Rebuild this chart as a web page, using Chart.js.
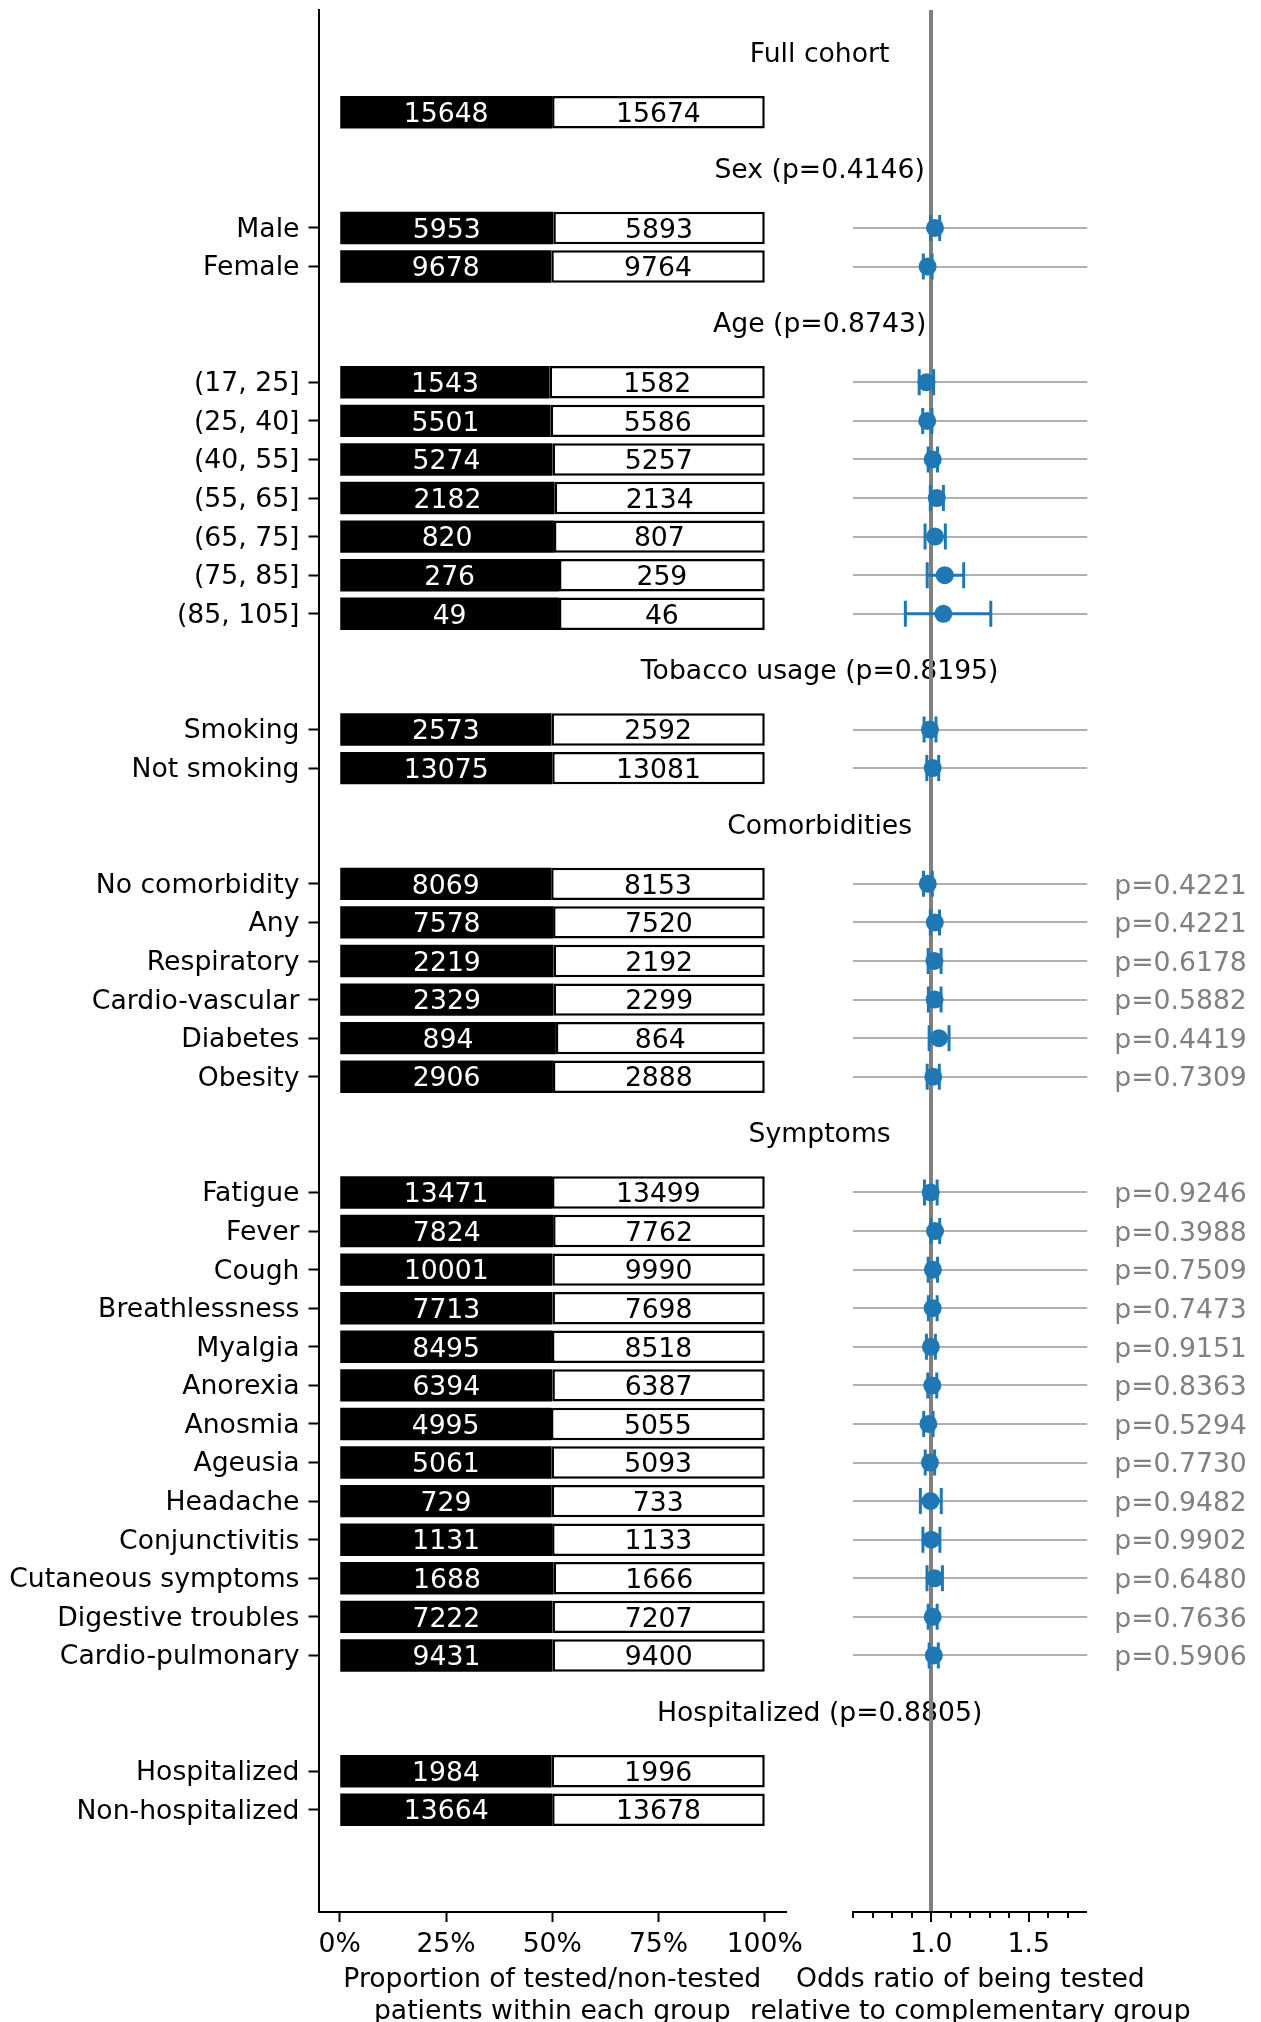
<!DOCTYPE html>
<html>
<head>
<meta charset="utf-8">
<script src="https://cdn.jsdelivr.net/npm/chart.js@4.4.1/dist/chart.umd.min.js"></script>
<style>
  html, body { margin: 0; padding: 0; background: #ffffff; }
  #wrap { position: relative; width: 1261px; height: 2022px; }
  #wrap canvas { position: absolute; left: 0; top: 0; }
</style>
</head>
<body>
<div id="wrap">
  <canvas id="shares" width="1261" height="2022"></canvas>
  <canvas id="odds" width="1261" height="2022"></canvas>
</div>
<script>
// ---- data ----
const groupTitles = ['Full cohort', 'Sex (p=0.4146)', 'Age (p=0.8743)', 'Tobacco usage (p=0.8195)',
  'Comorbidities', 'Symptoms', 'Hospitalized (p=0.8805)'];

const groupOf = [0, 1, 1, 2, 2, 2, 2, 2, 2, 2, 3, 3, 4, 4, 4, 4, 4, 4,
  5, 5, 5, 5, 5, 5, 5, 5, 5, 5, 5, 5, 5, 6, 6];

const categories = ['', 'Male', 'Female', '(17, 25]', '(25, 40]', '(40, 55]', '(55, 65]', '(65, 75]',
  '(75, 85]', '(85, 105]', 'Smoking', 'Not smoking', 'No comorbidity', 'Any', 'Respiratory',
  'Cardio-vascular', 'Diabetes', 'Obesity', 'Fatigue', 'Fever', 'Cough', 'Breathlessness', 'Myalgia',
  'Anorexia', 'Anosmia', 'Ageusia', 'Headache', 'Conjunctivitis', 'Cutaneous symptoms',
  'Digestive troubles', 'Cardio-pulmonary', 'Hospitalized', 'Non-hospitalized'];

const tested = [15648, 5953, 9678, 1543, 5501, 5274, 2182, 820, 276, 49, 2573, 13075, 8069, 7578, 2219,
  2329, 894, 2906, 13471, 7824, 10001, 7713, 8495, 6394, 4995, 5061, 729, 1131, 1688, 7222, 9431, 1984, 13664];

const notTested = [15674, 5893, 9764, 1582, 5586, 5257, 2134, 807, 259, 46, 2592, 13081, 8153, 7520, 2192,
  2299, 864, 2888, 13499, 7762, 9990, 7698, 8518, 6387, 5055, 5093, 733, 1133, 1666, 7207, 9400, 1996, 13678];

const oddsRatio = [null, 1.019, 0.981, 0.975, 0.979, 1.007, 1.028, 1.019, 1.069, 1.062, 0.993, 1.007,
  0.982, 1.018, 1.016, 1.017, 1.039, 1.010, 0.997, 1.019, 1.008, 1.007, 0.998, 1.005, 0.985, 0.993,
  0.996, 1.000, 1.017, 1.007, 1.013, null, null];

const orLow = [null, 0.996, 0.959, 0.938, 0.956, 0.984, 0.995, 0.968, 0.979, 0.867, 0.963, 0.977,
  0.960, 0.995, 0.984, 0.985, 0.989, 0.979, 0.965, 0.997, 0.984, 0.985, 0.975, 0.982, 0.961, 0.969,
  0.944, 0.957, 0.978, 0.984, 0.989, null, null];

const orHigh = [null, 1.043, 1.004, 1.012, 1.003, 1.032, 1.062, 1.072, 1.166, 1.305, 1.024, 1.038,
  1.005, 1.042, 1.050, 1.050, 1.091, 1.041, 1.030, 1.043, 1.032, 1.030, 1.021, 1.028, 1.009, 1.017,
  1.051, 1.044, 1.057, 1.030, 1.036, null, null];

const pValues = [null, null, null, null, null, null, null, null, null, null, null, null,
  '0.4221', '0.4221', '0.6178', '0.5882', '0.4419', '0.7309',
  '0.9246', '0.3988', '0.7509', '0.7473', '0.9151', '0.8363', '0.5294', '0.7730', '0.9482',
  '0.9902', '0.6480', '0.7636', '0.5906', null, null];

const shareTicks = [0, 25, 50, 75, 100];
const orTicks = [0.6, 0.7, 0.8, 0.9, 1.0, 1.1, 1.2, 1.3, 1.4, 1.5, 1.6, 1.7];
const orTickLabels = [1.0, 1.5];
const shareTitle = ['Proportion of tested/non-tested', 'patients within each group'];
const oddsTitle = ['Odds ratio of being tested', 'relative to complementary group'];

// ---- layout ----
const W = 1261, H = 2022;
const LEFT_AREA = { left: 318.5, right: 786 };
const RIGHT_AREA = { left: 853.3, right: 1087.3 };
const TOP = 10, X_AXIS_H = 110;
const FONT = "'DejaVu Sans', 'Liberation Sans', sans-serif";
const FS = 26.67;
const LINE_H = 1.2;
const TITLE_PAD_BOTTOM = -6;
const BLUE = '#1f77b4';

Chart.defaults.font.family = FONT;
Chart.defaults.font.size = FS;
Chart.defaults.color = '#000000';
Chart.defaults.animation = false;

// one slot per row, with a two-slot gap (header) before each new group
const rowPos = [];
categories.forEach((c, i) => {
  if (i === 0) rowPos.push(0);
  else rowPos.push(rowPos[i - 1] + (groupOf[i] !== groupOf[i - 1] ? 3 : 1));
});
const groupFirstRow = groupTitles.map((t, g) => rowPos[groupOf.indexOf(g)]);
const Y_MIN = -2.65;
const Y_MAX = rowPos[rowPos.length - 1] + 2.65;

const labelRows = rowPos.filter((p, i) => categories[i] !== '');
const labelAt = {};
rowPos.forEach((p, i) => { labelAt[p] = categories[i]; });

const testedShare = tested.map((t, i) => ({ x: 100 * t / (t + notTested[i]), y: rowPos[i] }));
const notTestedShare = notTested.map((n, i) => ({ x: 100 * n / (tested[i] + n), y: rowPos[i] }));

// keep the plot areas exactly where the layout constants put them
function fixWidth(w) {
  return s => { s.width = w; s.paddingTop = 0; s.paddingBottom = 0; };
}
function fixHeight(h) {
  return s => { s.height = h; s.paddingLeft = 0; s.paddingRight = 0; };
}

// ---- left panel: stacked proportions ----
const shareLabels = {
  id: 'shareLabels',
  afterDatasetsDraw(chart) {
    const ctx = chart.ctx;
    ctx.save();
    ctx.font = `${FS}px ${FONT}`;
    ctx.textAlign = 'center';
    ctx.textBaseline = 'alphabetic';
    const counts = [tested, notTested];
    const colors = ['#ffffff', '#000000'];
    [0, 1].forEach(d => {
      const meta = chart.getDatasetMeta(d);
      meta.data.forEach((bar, i) => {
        ctx.fillStyle = colors[d];
        ctx.fillText(String(counts[d][i]), (bar.x + bar.base) / 2, bar.y + 0.365 * FS);
      });
    });
    // group headers, centred in the gap between the two panels
    const ys = chart.scales.y;
    const cx = (LEFT_AREA.right + RIGHT_AREA.left) / 2;
    ctx.fillStyle = '#000000';
    groupTitles.forEach((t, g) => {
      ctx.fillText(t, cx, ys.getPixelForValue(groupFirstRow[g] - 1.3));
    });
    ctx.restore();
  }
};

new Chart(document.getElementById('shares'), {
  type: 'bar',
  data: {
    datasets: [
      { label: 'tested', data: testedShare, backgroundColor: '#000000', borderColor: '#000000',
        borderWidth: 0, borderSkipped: false },
      { label: 'non-tested', data: notTestedShare, backgroundColor: '#ffffff', borderColor: '#000000',
        borderWidth: 2.5, borderSkipped: false }
    ]
  },
  options: {
    indexAxis: 'y',
    responsive: false,
    maintainAspectRatio: false,
    categoryPercentage: 1,
    barPercentage: 0.84,
    layout: { autoPadding: false, padding: { left: 0, right: W - LEFT_AREA.right, top: TOP, bottom: 0 } },
    plugins: { legend: { display: false }, tooltip: { enabled: false } },
    scales: {
      x: {
        type: 'linear', stacked: true, min: -5, max: 105, offset: false,
        afterBuildTicks: s => { s.ticks = shareTicks.map(v => ({ value: v })); },
        afterFit: fixHeight(X_AXIS_H),
        ticks: { callback: v => v + '%', padding: 7, autoSkip: false, maxRotation: 0, color: '#000' },
        grid: { offset: false, drawOnChartArea: false, drawTicks: true, tickLength: 10, tickWidth: 2, tickColor: '#000' },
        border: { display: true, color: '#000', width: 2 },
        title: { display: true, text: shareTitle, color: '#000',
          font: { size: FS, lineHeight: LINE_H }, padding: { top: 0, bottom: TITLE_PAD_BOTTOM } }
      },
      y: {
        type: 'linear', stacked: true, reverse: true, min: Y_MIN, max: Y_MAX, offset: false,
        afterBuildTicks: s => { s.ticks = labelRows.map(v => ({ value: v })); },
        afterFit: fixWidth(LEFT_AREA.left),
        ticks: { callback: v => labelAt[v], padding: 9, labelOffset: 2, autoSkip: false, color: '#000' },
        grid: { offset: false, drawOnChartArea: false, drawTicks: true, tickLength: 10, tickWidth: 2, tickColor: '#000' },
        border: { display: true, color: '#000', width: 2 }
      }
    }
  },
  plugins: [shareLabels]
});

// ---- right panel: odds ratios ----
const forestIdx = oddsRatio.map((v, i) => v === null ? -1 : i).filter(i => i >= 0);
const orPoints = forestIdx.map(i => ({ x: oddsRatio[i], y: rowPos[i] }));
const orCaps = [];
const orWhiskers = [];
forestIdx.forEach(i => {
  orCaps.push({ x: orLow[i], y: rowPos[i] }, { x: orHigh[i], y: rowPos[i] });
  orWhiskers.push({ x: orLow[i], y: rowPos[i] }, { x: orHigh[i], y: rowPos[i] }, { x: null, y: null });
});
const forestRows = forestIdx.map(i => rowPos[i]);

const oddsText = {
  id: 'oddsText',
  afterDatasetsDraw(chart) {
    const ctx = chart.ctx;
    const ys = chart.scales.y;
    const area = chart.chartArea;
    ctx.save();
    ctx.font = `${FS}px ${FONT}`;
    ctx.fillStyle = '#808080';
    ctx.textAlign = 'left';
    ctx.textBaseline = 'alphabetic';
    pValues.forEach((p, i) => {
      if (p === null) return;
      ctx.fillText('p=' + p, area.right + 27, ys.getPixelForValue(rowPos[i]) + 0.365 * FS);
    });
    ctx.restore();
  },
  afterDraw(chart) {
    // axis title, written out in full (wider than the axis itself)
    const ctx = chart.ctx;
    const area = chart.chartArea;
    const lh = FS * LINE_H;
    const cx = (area.left + area.right) / 2;
    const yLast = H - TITLE_PAD_BOTTOM - lh / 2;
    ctx.save();
    ctx.font = `${FS}px ${FONT}`;
    ctx.fillStyle = '#000000';
    ctx.textAlign = 'center';
    ctx.textBaseline = 'middle';
    oddsTitle.forEach((line, k) => {
      ctx.fillText(line, cx, yLast - lh * (oddsTitle.length - 1 - k));
    });
    ctx.restore();
  }
};

new Chart(document.getElementById('odds'), {
  type: 'scatter',
  data: {
    datasets: [
      { label: 'odds ratio', data: orPoints, pointRadius: 9, pointHoverRadius: 9,
        backgroundColor: BLUE, borderWidth: 0, pointStyle: 'circle' },
      { label: 'caps', data: orCaps, pointStyle: 'line', rotation: 90, pointRadius: 13,
        pointHoverRadius: 13, borderColor: BLUE, borderWidth: 3 },
      { label: 'interval', data: orWhiskers, showLine: true, pointRadius: 0, pointHoverRadius: 0,
        borderColor: BLUE, borderWidth: 3, spanGaps: false }
    ]
  },
  options: {
    responsive: false,
    maintainAspectRatio: false,
    layout: { autoPadding: false,
      padding: { left: RIGHT_AREA.left, right: W - RIGHT_AREA.right, top: TOP, bottom: 0 } },
    plugins: { legend: { display: false }, tooltip: { enabled: false } },
    scales: {
      x: {
        type: 'linear', min: 0.6, max: 1.8, offset: false,
        afterBuildTicks: s => { s.ticks = orTicks.map(v => ({ value: v })); },
        afterFit: fixHeight(X_AXIS_H),
        ticks: { callback: v => orTickLabels.includes(v) ? v.toFixed(1) : '', padding: 7,
          autoSkip: false, maxRotation: 0, color: '#000' },
        grid: {
          offset: false, drawOnChartArea: true, drawTicks: true, tickLength: 10, tickWidth: 2, tickColor: '#000',
          color: '#808080',
          lineWidth: c => (c.tick && c.tick.value === 1.0) ? 4 : 0,
          tickBorderDash: c => (c.tick && orTickLabels.includes(c.tick.value)) ? [] : [5, 100]
        },
        border: { display: true, color: '#000', width: 2 },
        title: { display: false }
      },
      y: {
        type: 'linear', reverse: true, min: Y_MIN, max: Y_MAX, offset: false,
        afterBuildTicks: s => { s.ticks = forestRows.map(v => ({ value: v })); },
        afterFit: fixWidth(0),
        ticks: { display: false },
        grid: { offset: false, drawOnChartArea: true, drawTicks: false, color: '#b0b0b0', lineWidth: 2 },
        border: { display: false }
      }
    }
  },
  plugins: [oddsText]
});
</script>
</body>
</html>
